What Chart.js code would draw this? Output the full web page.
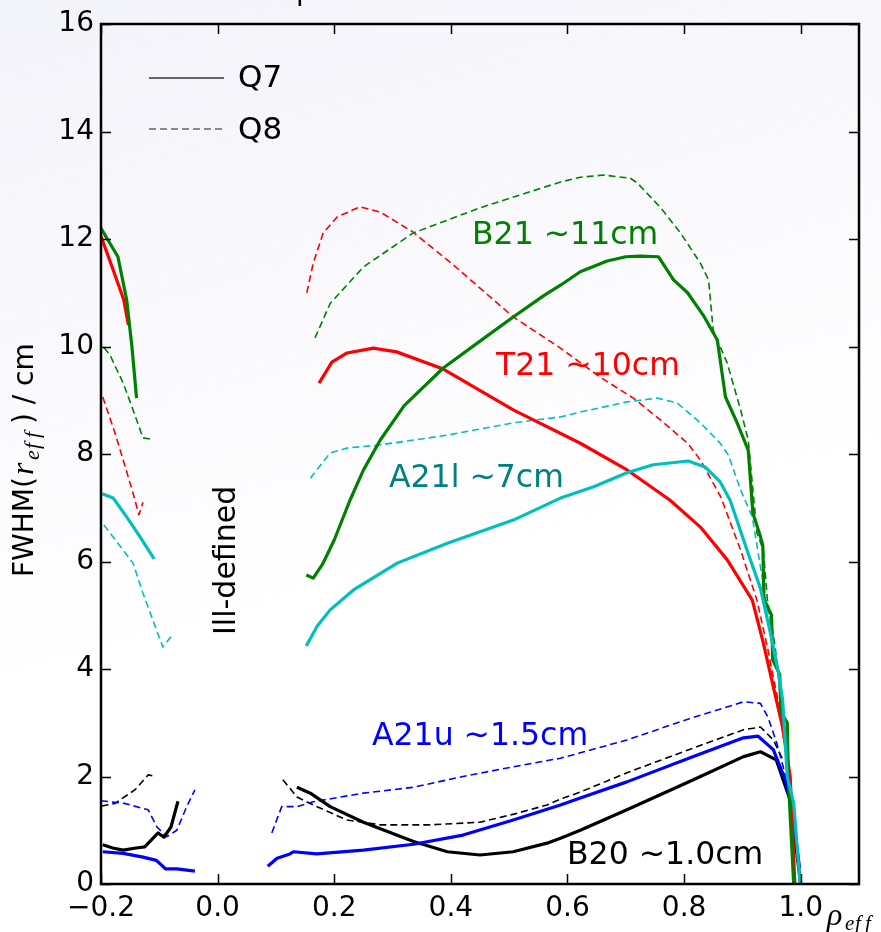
<!DOCTYPE html>
<html>
<head>
<meta charset="utf-8">
<script src="https://cdn.jsdelivr.net/npm/chart.js@4.4.0/dist/chart.umd.min.js"></script>
<style>
  html, body { margin: 0; padding: 0; }
  body { width: 881px; height: 932px; background: linear-gradient(165deg, #f3f3fa 0%, #fafafd 35%, #ffffff 60%); }
  #wrap { position: relative; width: 881px; height: 932px; }
</style>
</head>
<body>
<div id="wrap"><canvas id="myChart"></canvas></div>
<script>
// tick positions
var xTicks = [-0.2, 0.0, 0.2, 0.4, 0.6, 0.8, 1.0];
var yTicks = [0, 2, 4, 6, 8, 10, 12, 14, 16];

// Q7 = solid, Q8 = dashed ; [rho_eff, FWHM]
// B21 (green)
var b21Q7Left = [[-0.2,12.2],[-0.171,11.67],[-0.156,10.87],[-0.147,10.0],[-0.139,9.04]];
var b21Q8Left = [[-0.195,9.98],[-0.185,9.85],[-0.162,9.32],[-0.145,8.82],[-0.128,8.3],[-0.116,8.28]];
var b21Q7 = [[0.152,5.75],[0.164,5.69],[0.18,5.95],[0.2,6.4],[0.227,7.14],[0.25,7.7],[0.279,8.26],[0.32,8.9],[0.387,9.6],[0.45,10.1],[0.507,10.55],[0.56,10.95],[0.588,11.14],[0.622,11.39],[0.668,11.59],[0.7,11.67],[0.725,11.68],[0.756,11.67],[0.782,11.24],[0.806,11.0],[0.833,10.58],[0.857,10.12],[0.871,9.06],[0.891,8.58],[0.91,8.07],[0.918,6.9],[0.93,6.5],[0.935,6.3],[0.937,5.3],[0.95,5.0],[0.952,4.17],[0.964,3.9],[0.966,3.2],[0.977,3.0],[0.979,1.9],[0.988,0]];
var b21Q8 = [[0.167,10.16],[0.193,10.8],[0.25,11.48],[0.335,12.11],[0.45,12.58],[0.588,13.06],[0.622,13.15],[0.662,13.19],[0.708,13.13],[0.72,13.04],[0.76,12.58],[0.794,12.11],[0.828,11.55],[0.842,11.24],[0.85,10.3],[0.874,9.69],[0.897,8.82],[0.91,8.26],[0.925,6.53],[0.936,6.21],[0.943,5.28],[0.955,4.5],[0.968,3.4],[0.978,2.2],[0.99,0.5]];
// T21 (red)
var t21Q7Left = [[-0.2,12.05],[-0.18,11.45],[-0.161,10.87],[-0.153,10.4]];
var t21Q8Left = [[-0.197,9.06],[-0.176,8.39],[-0.162,7.89],[-0.145,7.27],[-0.135,6.87],[-0.128,7.1]];
var t21Q7 = [[0.174,9.32],[0.196,9.71],[0.222,9.88],[0.267,9.97],[0.307,9.9],[0.387,9.58],[0.507,8.82],[0.622,8.2],[0.7,7.72],[0.776,7.14],[0.828,6.64],[0.874,6.03],[0.917,5.28],[0.936,4.48],[0.953,3.67],[0.969,2.92],[0.982,2.0],[0.99,0]];
var t21Q8 = [[0.153,11.0],[0.164,11.55],[0.181,12.11],[0.205,12.41],[0.244,12.6],[0.279,12.5],[0.335,12.13],[0.404,11.52],[0.507,10.55],[0.588,9.97],[0.656,9.43],[0.713,9.04],[0.76,8.63],[0.806,8.2],[0.828,7.89],[0.863,7.2],[0.897,6.21],[0.925,5.28],[0.944,4.35],[0.961,3.42],[0.982,1.88],[0.986,1.5]];
// A21l (cyan)
var a21lQ7Left = [[-0.198,7.26],[-0.179,7.18],[-0.156,6.83],[-0.133,6.46],[-0.109,6.05]];
var a21lQ8Left = [[-0.195,6.68],[-0.171,6.34],[-0.145,5.97],[-0.128,5.41],[-0.111,4.91],[-0.094,4.41],[-0.08,4.6]];
var a21lQ7 = [[0.152,4.43],[0.171,4.8],[0.193,5.1],[0.233,5.47],[0.308,5.97],[0.394,6.34],[0.507,6.77],[0.588,7.18],[0.645,7.39],[0.702,7.65],[0.747,7.8],[0.807,7.87],[0.836,7.76],[0.862,7.48],[0.879,7.14],[0.908,6.21],[0.931,5.5],[0.948,4.67],[0.962,3.92],[0.969,3.42],[0.977,2.0],[0.988,1.5],[0.999,0]];
var a21lQ8 = [[0.159,7.55],[0.193,8.02],[0.222,8.11],[0.279,8.17],[0.394,8.35],[0.507,8.58],[0.588,8.69],[0.622,8.78],[0.702,8.97],[0.754,9.04],[0.788,8.95],[0.828,8.58],[0.862,8.2],[0.876,7.98],[0.897,7.33],[0.917,6.83],[0.931,5.9],[0.945,5.0],[0.96,4.0],[0.975,2.5],[0.985,1.6]];
// A21u (blue)
var a21uQ7Left = [[-0.197,0.6],[-0.162,0.57],[-0.128,0.5],[-0.105,0.44],[-0.089,0.28],[-0.07,0.28],[-0.039,0.24]];
var a21uQ8Left = [[-0.2,1.55],[-0.16,1.5],[-0.119,1.38],[-0.104,1.06],[-0.087,0.88],[-0.07,1.0],[-0.053,1.44],[-0.039,1.75]];
var a21uQ7 = [[0.086,0.33],[0.102,0.48],[0.124,0.56],[0.13,0.6],[0.17,0.56],[0.25,0.63],[0.336,0.74],[0.421,0.91],[0.507,1.19],[0.588,1.47],[0.622,1.6],[0.702,1.9],[0.816,2.37],[0.902,2.72],[0.927,2.75],[0.953,2.5],[0.974,1.93],[0.985,1.44],[0.998,0.3]];
var a21uQ8 = [[0.093,0.95],[0.11,1.44],[0.136,1.44],[0.164,1.53],[0.25,1.69],[0.336,1.8],[0.421,2.0],[0.507,2.18],[0.588,2.34],[0.622,2.44],[0.702,2.68],[0.816,3.1],[0.902,3.39],[0.931,3.36],[0.944,3.1],[0.959,2.62],[0.97,2.18],[0.985,1.5]];
// B20 (black)
var b20Q7Left = [[-0.197,0.73],[-0.18,0.67],[-0.162,0.63],[-0.14,0.67],[-0.125,0.69],[-0.102,0.95],[-0.092,0.87],[-0.08,1.06],[-0.068,1.54]];
var b20Q8Left = [[-0.199,1.45],[-0.176,1.5],[-0.142,1.75],[-0.119,2.03],[-0.11,2.01]];
var b20Q7 = [[0.136,1.8],[0.159,1.69],[0.193,1.44],[0.25,1.15],[0.336,0.79],[0.394,0.6],[0.45,0.54],[0.507,0.6],[0.565,0.76],[0.588,0.85],[0.622,1.0],[0.702,1.38],[0.816,1.94],[0.902,2.37],[0.931,2.46],[0.958,2.31],[0.982,1.56],[1.0,0]];
var b20Q8 = [[0.112,1.94],[0.136,1.62],[0.164,1.47],[0.222,1.19],[0.279,1.1],[0.365,1.1],[0.45,1.15],[0.508,1.3],[0.565,1.47],[0.588,1.58],[0.622,1.71],[0.702,2.07],[0.816,2.53],[0.902,2.87],[0.931,2.92],[0.953,2.68],[0.97,2.3]];

var GREEN = "#008000", RED = "#ff0000", CYAN = "#00bfbf", BLUE = "#0000ff", BLACK = "#000000";

function toPoints(pairs) {
    return pairs.map(function(p) { return {x: p[0], y: p[1]}; });
}

function makeLine(pairs, color, dashed) {
    return {
        data: toPoints(pairs),
        borderColor: color,
        borderWidth: dashed ? 1.6 : 3.2,
        borderDash: dashed ? [7, 4] : [],
        borderJoinStyle: 'round',
        pointRadius: 0,
        fill: false,
        tension: 0
    };
}

// first dataset ends up on top
var datasets = [
    makeLine(a21lQ7, CYAN, false), makeLine(a21lQ7Left, CYAN, false),
    makeLine(b21Q7, GREEN, false), makeLine(b21Q7Left, GREEN, false),
    makeLine(t21Q7, RED, false), makeLine(t21Q7Left, RED, false),
    makeLine(a21uQ7, BLUE, false), makeLine(a21uQ7Left, BLUE, false),
    makeLine(b20Q7, BLACK, false), makeLine(b20Q7Left, BLACK, false),
    makeLine(a21lQ8, CYAN, true), makeLine(a21lQ8Left, CYAN, true),
    makeLine(b21Q8, GREEN, true), makeLine(b21Q8Left, GREEN, true),
    makeLine(t21Q8, RED, true), makeLine(t21Q8Left, RED, true),
    makeLine(a21uQ8, BLUE, true), makeLine(a21uQ8Left, BLUE, true),
    makeLine(b20Q8, BLACK, true), makeLine(b20Q8Left, BLACK, true)
];

var FONT = "'DejaVu Sans', sans-serif";
var MATH = "'Liberation Serif', 'DejaVu Serif', serif";

// draw a string letter by letter with a fixed advance (wider math italics)
function spacedText(ctx, s, x, y, step) {
    for (var i = 0; i < s.length; i++) {
        ctx.fillText(s[i], x + i * step, y);
    }
    return x + s.length * step;
}

// frame, inward ticks and all free text
var decorPlugin = {
    id: 'decor',
    afterDraw: function(chart) {
        var ctx = chart.ctx;
        var a = chart.chartArea;
        var xs = chart.scales.x, ys = chart.scales.y;
        ctx.save();
        ctx.strokeStyle = '#000';
        ctx.lineWidth = 1.5;
        ctx.beginPath();
        xTicks.forEach(function(v) {
            var px = Math.round(xs.getPixelForValue(v)) + 0.5;
            ctx.moveTo(px, a.bottom); ctx.lineTo(px, a.bottom - 10);
            ctx.moveTo(px, a.top); ctx.lineTo(px, a.top + 10);
        });
        yTicks.forEach(function(v) {
            var py = Math.round(ys.getPixelForValue(v)) + 0.5;
            ctx.moveTo(a.left, py); ctx.lineTo(a.left + 10, py);
            ctx.moveTo(a.right, py); ctx.lineTo(a.right - 10, py);
        });
        ctx.stroke();
        ctx.lineWidth = 2.5;
        ctx.strokeRect(a.left, a.top, a.right - a.left, a.bottom - a.top);

        // legend
        ctx.strokeStyle = '#666666';
        ctx.lineWidth = 2.2;
        ctx.beginPath(); ctx.moveTo(149, 78); ctx.lineTo(224, 78); ctx.stroke();
        ctx.lineWidth = 1.5;
        ctx.setLineDash([7, 4]);
        ctx.beginPath(); ctx.moveTo(149, 129); ctx.lineTo(224, 129); ctx.stroke();
        ctx.setLineDash([]);
        ctx.fillStyle = '#000';
        ctx.font = '31px ' + FONT;
        ctx.textBaseline = 'middle';
        ctx.textAlign = 'left';
        ctx.fillText('Q7', 238, 79);
        ctx.fillText('Q8', 238, 131);

        // curve labels
        ctx.textBaseline = 'alphabetic';
        ctx.font = '31.5px ' + FONT;
        ctx.fillStyle = GREEN; ctx.fillText('B21 ~11cm', 472, 244);
        ctx.fillStyle = RED; ctx.fillText('T21 ~10cm', 496, 375);
        ctx.fillStyle = '#008080'; ctx.fillText('A21l ~7cm', 389, 487);
        ctx.fillStyle = BLUE; ctx.fillText('A21u ~1.5cm', 372, 745);
        ctx.fillStyle = BLACK; ctx.fillText('B20 ~1.0cm', 567, 864);

        // clipped title fragment
        ctx.font = '28px ' + FONT;
        ctx.fillText('p', 296, 0);

        // Ill-defined
        ctx.save();
        ctx.translate(235, 635);
        ctx.rotate(-Math.PI / 2);
        ctx.font = '30px ' + FONT;
        ctx.fillText('Ill-defined', 0, 0);
        ctx.restore();

        // y axis label
        ctx.save();
        ctx.translate(33, 577);
        ctx.rotate(-Math.PI / 2);
        var x = 0;
        ctx.font = '28px ' + FONT;
        ctx.fillText('FWHM(', x, 0); x += ctx.measureText('FWHM(').width;
        ctx.font = 'italic 32px ' + MATH;
        ctx.fillText('r', x + 2, 0); x += 17;
        ctx.font = 'italic 22px ' + MATH;
        x = spacedText(ctx, 'eff', x, 6, 11) + 3;
        ctx.font = '28px ' + FONT;
        ctx.fillText(') / cm', x, 0);
        ctx.restore();

        // x axis label
        ctx.font = 'italic 32px ' + MATH;
        ctx.fillText('\u03c1', 827, 925);
        ctx.font = 'italic 21px ' + MATH;
        spacedText(ctx, 'eff', 845, 930, 10);
        ctx.restore();
    }
};

var ctx = document.getElementById('myChart').getContext('2d');
var myChart = new Chart(ctx, {
    type: 'line',
    data: { datasets: datasets },
    options: {
        responsive: true,
        maintainAspectRatio: false,
        animation: false,
        layout: { padding: { top: 24, right: 22, left: 0, bottom: 0 } },
        plugins: { legend: { display: false }, tooltip: { enabled: false } },
        scales: {
            x: {
                type: 'linear',
                min: -0.2,
                max: 1.1,
                grid: { display: false, drawTicks: false },
                border: { display: false },
                afterBuildTicks: function(scale) {
                    scale.ticks = xTicks.map(function(v) { return {value: v}; });
                },
                afterFit: function(scale) { scale.height = 48; },
                ticks: {
                    padding: 8,
                    color: '#000',
                    maxRotation: 0,
                    autoSkip: false,
                    font: { family: FONT, size: 28 },
                    callback: function(v) { return (v < 0 ? '\u2212' : '') + Math.abs(v).toFixed(1); }
                }
            },
            y: {
                min: 0,
                max: 16,
                grid: { display: false, drawTicks: false },
                border: { display: false },
                afterBuildTicks: function(scale) {
                    scale.ticks = yTicks.map(function(v) { return {value: v}; });
                },
                afterFit: function(scale) { scale.width = 101; },
                ticks: {
                    padding: 7,
                    color: '#000',
                    autoSkip: false,
                    font: { family: FONT, size: 28 }
                }
            }
        }
    },
    plugins: [decorPlugin]
});
</script>
</body>
</html>
